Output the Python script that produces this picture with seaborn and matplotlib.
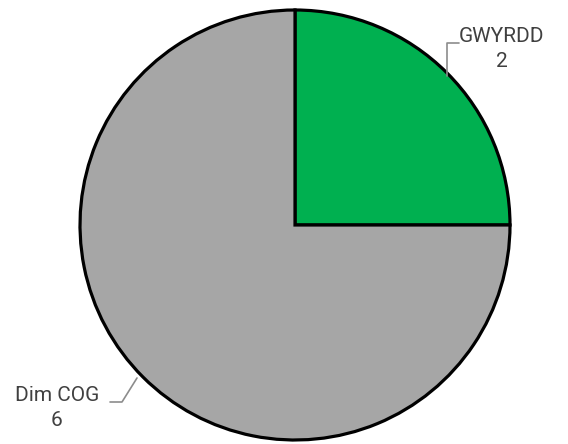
import matplotlib
matplotlib.use("Agg")
import matplotlib.pyplot as plt
import seaborn as sns

# Data
labels = ["GWYRDD", "Dim COG"]
values = [2, 6]
colors = ["#00B050", "#A6A6A6"]

sns.set_theme(style="white")
plt.rcParams['font.family'] = ['Roboto', 'DejaVu Sans']

W, H = 568, 444
fig = plt.figure(figsize=(W / 100, H / 100), dpi=100)
# pie box in pixels: centre (295, 225), radius 215
cx, cy, r = 295, 225, 215
ax = fig.add_axes([(cx - r) / W, (H - cy - r) / H, 2 * r / W, 2 * r / H])

wedges, _ = ax.pie(values, colors=colors, startangle=90, counterclock=False,
                   radius=1, wedgeprops=dict(edgecolor="black", linewidth=2.3,
                                             clip_on=False))
ax.set_xlim(-1, 1)
ax.set_ylim(-1, 1)
ax.set_aspect("equal")
ax.axis("off")

txt_color = "#404040"
line_color = "#8c8c8c"

def px(x, y):
    # pixel position -> pie data coords
    return (x - cx) / r, (cy - y) / r

# GWYRDD leader
p_edge = px(447, 76)
p_corner = px(447, 43)
p_end = px(459, 43)
ax.plot([p_edge[0], p_corner[0], p_end[0]], [p_edge[1], p_corner[1], p_end[1]],
        color=line_color, lw=1.2, clip_on=False)
tx, ty = px(502, 49)
ax.text(tx, ty, f"{labels[0]}\n{values[0]}", ha="center", va="center",
        fontsize=15, color=txt_color, linespacing=1.45)

# Dim COG leader
q_edge = px(137, 378)
q_corner = px(122, 402)
q_end = px(110, 402)
ax.plot([q_edge[0], q_corner[0], q_end[0]], [q_edge[1], q_corner[1], q_end[1]],
        color=line_color, lw=1.2, clip_on=False)
tx, ty = px(57, 408)
ax.text(tx, ty, f"{labels[1]}\n{values[1]}", ha="center", va="center",
        fontsize=15, color=txt_color, linespacing=1.45)

fig.savefig("out.png", dpi=100)
